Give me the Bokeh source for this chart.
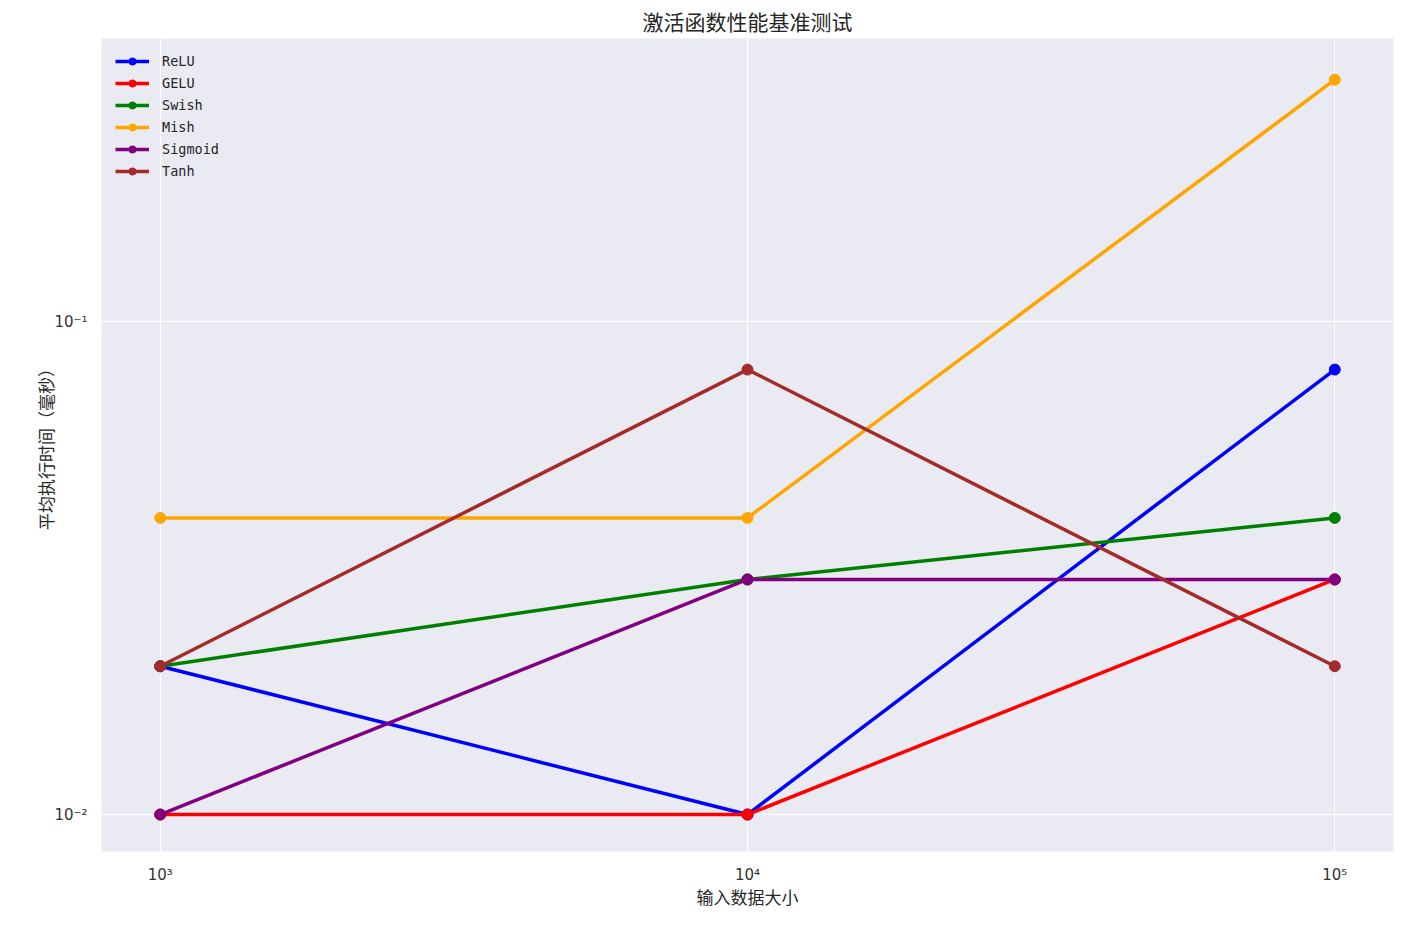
from bokeh.plotting import figure
from bokeh.embed import file_html
from bokeh.resources import INLINE
from bokeh.models import FixedTicker, CustomJSTickFormatter, Legend, LegendItem

sizes = [1000, 10000, 100000]
relu = [0.02, 0.01, 0.08]
gelu = [0.01, 0.01, 0.03]
swish = [0.02, 0.03, 0.04]
mish = [0.04, 0.04, 0.31]
sigmoid = [0.01, 0.03, 0.03]
tanh = [0.02, 0.08, 0.02]

names = ["ReLU", "GELU", "Swish", "Mish", "Sigmoid", "Tanh"]
series = [relu, gelu, swish, mish, sigmoid, tanh]
colors = ["blue", "red", "green", "orange", "purple", "brown"]

x_ticks = [1000, 10000, 100000]
y_ticks = [0.01, 0.1]

p = figure(width=1394, height=915, x_axis_type="log", y_axis_type="log",
           x_range=(10**2.9, 10**5.1), y_range=(10**-2.075, 10**-0.425),
           output_backend="svg", toolbar_location=None,
           min_border_left=101, min_border_right=1, min_border_top=31, min_border_bottom=64)

p.title.text = "激活函数性能基准测试"
p.title.align = "center"
p.title.text_font = "Noto Sans CJK SC"
p.title.text_font_size = "21px"
p.title.text_font_style = "normal"
p.title.text_color = "#262626"
p.title.standoff = 6

p.background_fill_color = "#EAEAF2"
p.border_fill_color = "white"
p.outline_line_color = None

p.xgrid.grid_line_color = "white"
p.ygrid.grid_line_color = "white"
p.xgrid.grid_line_width = 1
p.ygrid.grid_line_width = 1

p.xaxis.ticker = FixedTicker(ticks=x_ticks)
p.yaxis.ticker = FixedTicker(ticks=y_ticks)
sup_js = """
const sup = {'-':'\u207b','0':'\u2070','1':'\u00b9','2':'\u00b2','3':'\u00b3','4':'\u2074','5':'\u2075','6':'\u2076','7':'\u2077','8':'\u2078','9':'\u2079'};
const e = Math.round(Math.log10(tick));
return '10' + String(e).split('').map(c => sup[c]).join('');
"""
p.xaxis.formatter = CustomJSTickFormatter(code=sup_js)
p.yaxis.formatter = CustomJSTickFormatter(code=sup_js)

for ax in [p.xaxis, p.yaxis]:
    ax.axis_line_color = None
    ax.major_tick_line_color = None
    ax.minor_tick_line_color = None
    ax.major_label_text_font = "DejaVu Sans"
    ax.major_label_text_font_size = "15px"
    ax.major_label_text_color = "#333333"
    ax.axis_label_text_font = "Noto Sans CJK SC"
    ax.axis_label_text_font_size = "17px"
    ax.axis_label_text_font_style = "normal"
    ax.axis_label_text_color = "#262626"

p.xaxis.axis_label = "输入数据大小"
p.yaxis.axis_label = "平均执行时间（毫秒）"
p.xaxis.major_label_standoff = 8
p.xaxis.axis_label_standoff = -3
p.yaxis.major_label_standoff = 8
p.yaxis.axis_label_standoff = -7

items = []
for name, vals, c in zip(names, series, colors):
    l = p.line(sizes, vals, line_color=c, line_width=3.5)
    s = p.scatter(sizes, vals, marker="circle", size=11, fill_color=c, line_color=c)
    items.append(LegendItem(label=name, renderers=[l, s]))

legend = Legend(items=items, location="top_left")
legend.background_fill_alpha = 0
legend.border_line_alpha = 0
legend.label_text_font = "DejaVu Sans Mono"
legend.label_text_font_size = "13.5px"
legend.label_text_color = "#262626"
legend.glyph_width = 34
legend.glyph_height = 18
legend.label_height = 18
legend.spacing = 4
legend.label_standoff = 13
legend.margin = 6
legend.padding = 8
p.add_layout(legend)

open("out.html", "w").write(file_html(p, INLINE))
